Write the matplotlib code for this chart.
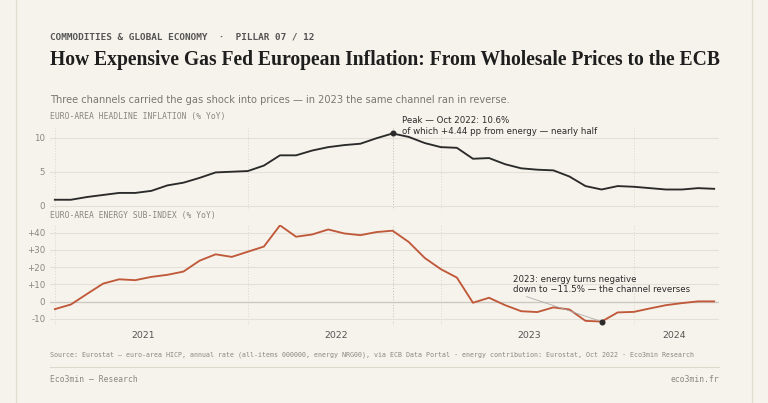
import matplotlib.pyplot as plt
import numpy as np

headline = [0.9, 0.9, 1.3, 1.6, 1.9, 1.9, 2.2, 3.0, 3.4, 4.1, 4.9, 5.0, 5.1, 5.9, 7.4, 7.4,
            8.1, 8.6, 8.9, 9.1, 9.9, 10.6, 10.1, 9.2, 8.6, 8.5, 6.9, 7.0, 6.1, 5.5, 5.3, 5.2,
            4.3, 2.9, 2.4, 2.9, 2.8, 2.6, 2.4, 2.4, 2.6, 2.5]
energy = [-4.3, -1.6, 4.5, 10.5, 13.0, 12.5, 14.4, 15.6, 17.5, 23.8, 27.5, 26.0, 29.0, 32.0,
          44.3, 37.7, 39.0, 41.9, 39.6, 38.6, 40.4, 41.2, 34.7, 25.4, 18.9, 14.0, -0.6, 2.3,
          -2.0, -5.5, -6.0, -3.3, -4.5, -11.1, -11.5, -6.2, -5.9, -3.9, -2.0, -0.8, 0.2, 0.2]
years = ["2021", "2022", "2023", "2024"]
year_pos = [5.5, 17.5, 29.5, 38.5]
peak_i = 21
trough_i = 34

BG = "#f6f3ec"
INK = "#2a2a2a"
GRID = "#e4e0d8"
RED = "#c0593a"
MUTED = "#8a8680"

W, H = 768, 403
fig = plt.figure(figsize=(W / 96, H / 96), dpi=96, facecolor=BG)

def fx(p): return p / W
def fy(p): return 1 - p / H

x = np.arange(len(headline))

# card borders
fig.add_artist(plt.Line2D([fx(16), fx(16)], [0, 1], color="#e2ddd3", lw=1))
fig.add_artist(plt.Line2D([fx(752), fx(752)], [0, 1], color="#e2ddd3", lw=1))
fig.add_artist(plt.Line2D([fx(50), fx(719)], [fy(367), fy(367)], color="#ddd8ce", lw=0.8))

fig.text(fx(50), fy(37), "COMMODITIES & GLOBAL ECONOMY  ·  PILLAR 07 / 12", fontsize=7,
         family="DejaVu Sans Mono", color="#555", va="center", fontweight="bold")
fig.text(fx(50), fy(60), "How Expensive Gas Fed European Inflation: From Wholesale Prices to the ECB",
         fontsize=14.7, family="Liberation Serif", color="#1e1e1e", va="center", fontweight="bold")
fig.text(fx(50), fy(100), "Three channels carried the gas shock into prices — in 2023 the same channel ran in reverse.",
         fontsize=7.4, color="#7a7670", va="center")

def style(ax):
    ax.set_facecolor("none")
    for s in ax.spines.values():
        s.set_visible(False)
    ax.tick_params(length=0, labelsize=6.5, labelcolor=MUTED)
    ax.set_xlim(-0.3, len(headline) - 0.7)
    ax.set_xticks([])
    for j in [0, 12, 24, 36]:
        ax.axvline(j, color="#d8d3c9", lw=0.7, ls=(0, (1, 2)), zorder=0)
    ax.axvline(peak_i, color="#bdb8ae", lw=0.7, ls=(0, (1, 2)), zorder=0)

ax1 = fig.add_axes([fx(50), fy(210), fx(669), (210 - 128) / H])
style(ax1)
ax1.set_ylim(-0.6, 11.4)
ax1.set_yticks([0, 5, 10])
for v in [0, 5, 10]:
    ax1.axhline(v, color=GRID, lw=0.8, zorder=0)
ax1.plot(x, headline, color=INK, lw=1.4)
ax1.plot(peak_i, headline[peak_i], "o", color=INK, ms=3.5)
ax1.text(peak_i + 0.6, 11.7, "Peak — Oct 2022: 10.6%\nof which +4.44 pp from energy — nearly half",
         fontsize=6.5, color=INK, va="center", linespacing=1.2)
fig.text(fx(50), fy(117), "EURO-AREA HEADLINE INFLATION (% YoY)", fontsize=6,
         family="DejaVu Sans Mono", color=MUTED, va="center")

ax2 = fig.add_axes([fx(50), fy(325), fx(669), (325 - 225) / H])
style(ax2)
ax2.set_ylim(-13.5, 44.5)
ticks = [-10, 0, 10, 20, 30, 40]
ax2.set_yticks(ticks)
ax2.set_yticklabels([f"+{t}" if t > 0 else str(t) for t in ticks])
for v in ticks:
    ax2.axhline(v, color="#ccc8c0" if v == 0 else GRID, lw=1.0 if v == 0 else 0.8, zorder=0)
ax2.plot(x, energy, color=RED, lw=1.4)
ax2.plot(trough_i, energy[trough_i], "o", color=INK, ms=3.5)
ax2.annotate("2023: energy turns negative\ndown to −11.5% — the channel reverses",
             xy=(trough_i, energy[trough_i]), xytext=(28.5, 4.5), fontsize=6.5, color=INK,
             linespacing=1.2, va="bottom",
             arrowprops=dict(arrowstyle="-", color="#aaa", lw=0.6, shrinkA=0, shrinkB=2,
                             relpos=(0.03, 0)))
fig.text(fx(50), fy(215), "EURO-AREA ENERGY SUB-INDEX (% YoY)", fontsize=6,
         family="DejaVu Sans Mono", color=MUTED, va="center")

for lab, p in zip(years, year_pos):
    ax2.text(p, -19.5, lab, fontsize=7, color="#555", ha="center", va="center")

fig.text(fx(50), fy(355), "Source: Eurostat — euro-area HICP, annual rate (all-items 000000, energy NRG00), via ECB Data Portal · energy contribution: Eurostat, Oct 2022 · Eco3min Research",
         fontsize=5, family="DejaVu Sans Mono", color=MUTED, va="center")
fig.text(fx(50), fy(379), "Eco3min — Research", fontsize=6, family="DejaVu Sans Mono", color=MUTED, va="center")
fig.text(fx(719), fy(379), "eco3min.fr", fontsize=6, family="DejaVu Sans Mono", color=MUTED, va="center", ha="right")

fig.savefig("out.png", dpi=96, facecolor=BG)
